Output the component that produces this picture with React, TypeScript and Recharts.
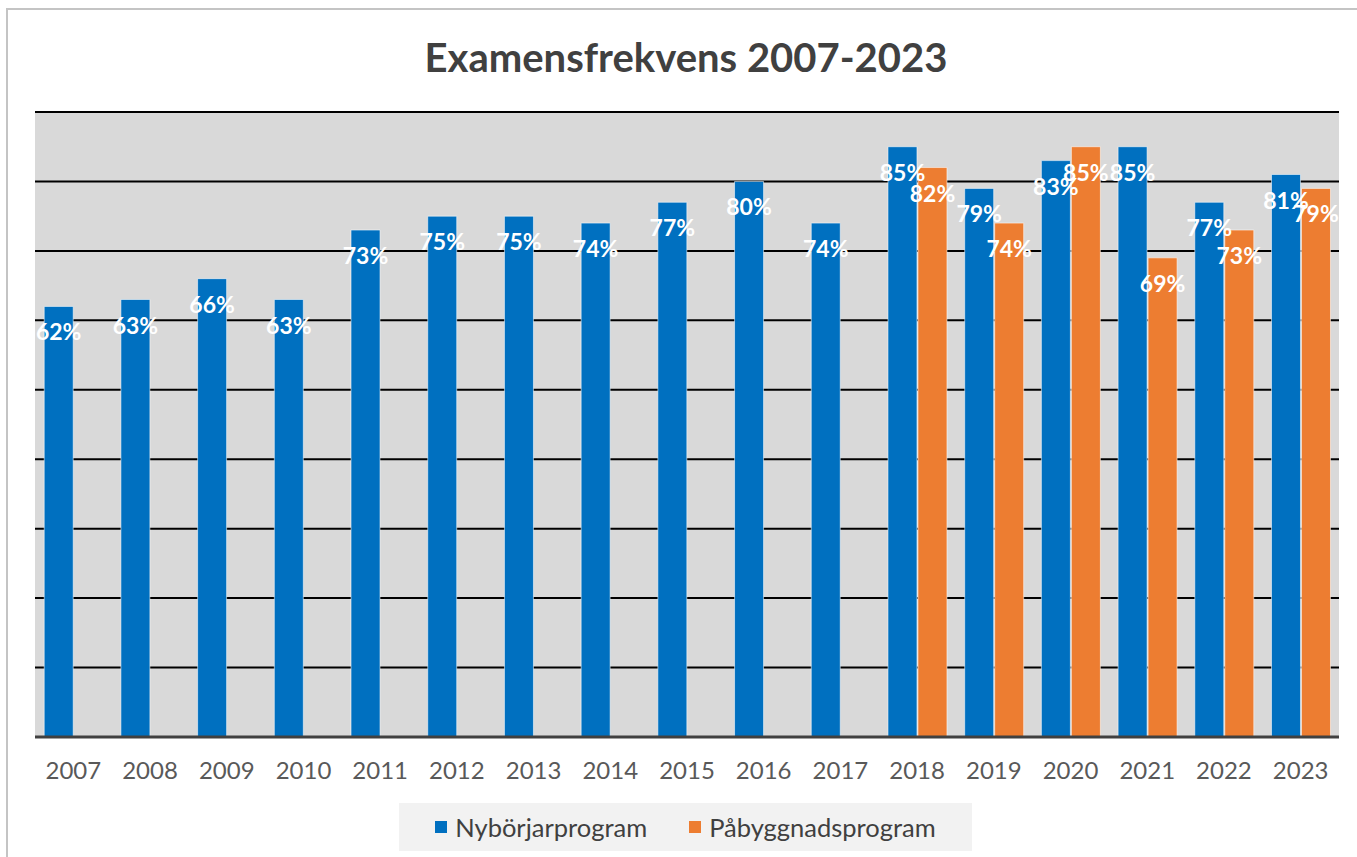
import React from 'react';
import { BarChart, Bar, XAxis, YAxis, CartesianGrid, Legend, LabelList } from 'recharts';

const years = ['2007', '2008', '2009', '2010', '2011', '2012', '2013', '2014', '2015', '2016', '2017', '2018', '2019', '2020', '2021', '2022', '2023'];
const nyborjarprogram = [62, 63, 66, 63, 73, 75, 75, 74, 77, 80, 74, 85, 79, 83, 85, 77, 81];
const pabyggnadsprogram: (number | null)[] = [null, null, null, null, null, null, null, null, null, null, null, 82, 74, 85, 69, 73, 79];
const yTicks = [0, 10, 20, 30, 40, 50, 60, 70, 80, 90];
const seriesNames = ['Nybörjarprogram', 'Påbyggnadsprogram'];
const title = 'Examensfrekvens 2007-2023';

const BLUE = '#0070c0';
const ORANGE = '#ed7d31';
const FONT = 'Lato, "Open Sans", sans-serif';

const data = years.map((y, i) => ({ year: y, nyb: nyborjarprogram[i], pab: pabyggnadsprogram[i] }));

const renderLabel = (props: any) => {
  const { x, y, width, value } = props;
  if (value == null) return null;
  return (
    <text
      x={Number(x) + Number(width) / 2}
      y={Number(y) + 25}
      textAnchor="middle"
      dominantBaseline="central"
      fill="#ffffff"
      fontSize={23}
      fontWeight={700}
      fontFamily={FONT}
    >
      {value}%
    </text>
  );
};

const renderLegend = () => (
  <div
    style={{
      width: 573,
      height: 48,
      background: '#f2f2f2',
      display: 'flex',
      alignItems: 'center',
      justifyContent: 'center',
      gap: 42,
      fontFamily: FONT,
      fontSize: 25.5,
      color: '#404040',
    }}
  >
    {seriesNames.map((n, i) => (
      <div key={n} style={{ display: 'flex', alignItems: 'center' }}>
        <span style={{ display: 'inline-block', width: 12, height: 12, background: i === 0 ? BLUE : ORANGE, marginRight: 8 }} />
        <span>{n}</span>
      </div>
    ))}
  </div>
);

export default function App() {
  return (
    <div style={{ position: 'absolute', left: 0, top: 0, width: 1357, height: 857, background: '#fff', overflow: 'hidden' }}>
      <div style={{ position: 'absolute', left: 6, top: 8, width: 1400, height: 900, border: '2px solid #c4c4c4' }} />
      <div
        style={{
          position: 'absolute',
          left: 0,
          width: 1372,
          top: 33,
          textAlign: 'center',
          fontFamily: FONT,
          fontWeight: 700,
          fontSize: 40,
          color: '#404040',
          lineHeight: '48px',
        }}
      >
        {title}
      </div>
      <div style={{ position: 'absolute', left: 0, top: 0 }}>
        <BarChart
          width={1357}
          height={857}
          data={data}
          margin={{ top: 112, right: 18, bottom: 70, left: 35 }}
          barCategoryGap="12%"
          barGap={1}
        >
          <CartesianGrid vertical={false} stroke="#000000" strokeWidth={2} fill="#d9d9d9" />
          <YAxis hide domain={[0, 90]} ticks={yTicks} />
          <XAxis
            dataKey="year"
            height={50}
            tickLine={false}
            tickMargin={19}
            axisLine={{ stroke: '#404040', strokeWidth: 3 }}
            tick={{ fill: '#595959', fontSize: 24, fontFamily: FONT }}
            interval={0}
          />
          <Legend
            verticalAlign="middle"
            align="center"
            content={renderLegend}
            wrapperStyle={{ left: 399, top: 803, width: 573, height: 48 }}
          />
          <Bar dataKey="nyb" name={seriesNames[0]} fill={BLUE} stroke="rgba(255,255,255,0.55)" strokeWidth={1} isAnimationActive={false}>
            <LabelList dataKey="nyb" content={renderLabel} />
          </Bar>
          <Bar dataKey="pab" name={seriesNames[1]} fill={ORANGE} stroke="rgba(255,255,255,0.55)" strokeWidth={1} isAnimationActive={false}>
            <LabelList dataKey="pab" content={renderLabel} />
          </Bar>
        </BarChart>
      </div>
    </div>
  );
}
